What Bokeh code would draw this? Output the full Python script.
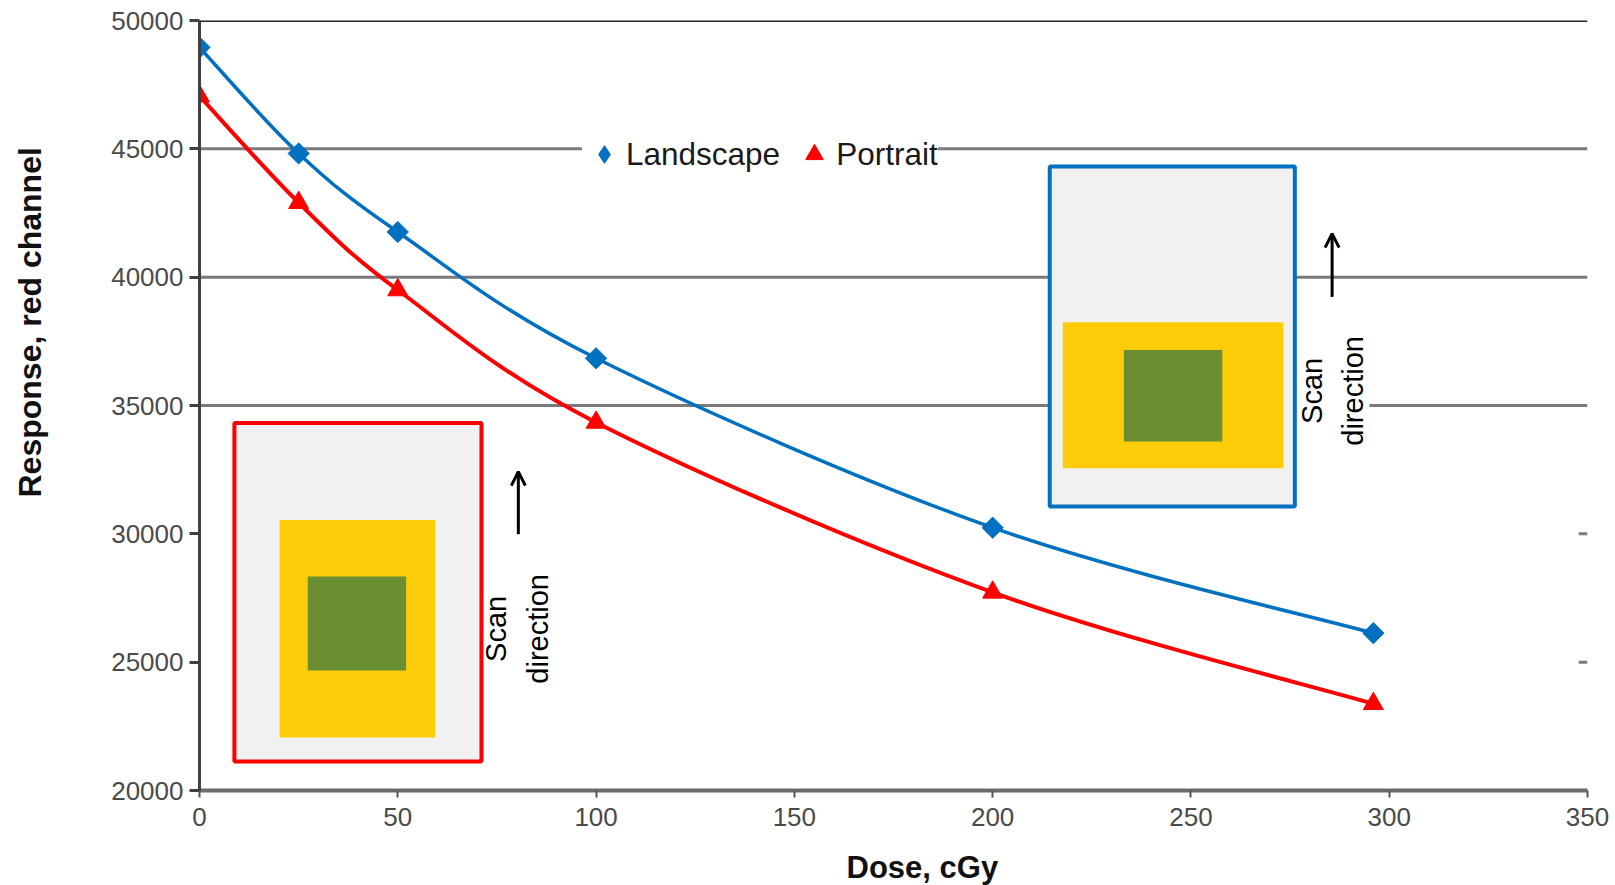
import math

from bokeh.core.properties import value
from bokeh.embed import file_html
from bokeh.models import (Arrow, FixedTicker, Legend, LegendItem, OpenHead,
                          Range1d, Title)
from bokeh.plotting import figure
from bokeh.resources import INLINE

# ---- measured film response ----
dose = [0, 25, 50, 100, 200, 296]
landscape = [48950, 44820, 41760, 36840, 30240, 26130]
portrait = [47050, 42900, 39500, 34340, 27720, 23380]

x_ticks = [0, 50, 100, 150, 200, 250, 300, 350]
y_ticks = [20000, 25000, 30000, 35000, 40000, 45000, 50000]

# ---- film sketches (left, right, bottom, top in axis units) ----
portrait_film = [8.8, 71.1, 21126, 34322]
portrait_strip = [20.2, 59.4, 22061, 30543]
portrait_patch = [27.3, 52.1, 24671, 28334]
landscape_film = [214.4, 276.2, 31061, 44308]
landscape_strip = [217.7, 273.3, 32557, 38245]
landscape_patch = [233.1, 257.9, 33594, 37166]

scan_note_x = [80.1, 285.7]
scan_note_y = [26297, 35569]
scan_arrow_x = [80.4, 285.6]
scan_arrow_y0 = [29986, 39231]
scan_arrow_y1 = [32425, 41697]

BLUE = "#0070C0"
RED = "#FF0000"
FONT = "Liberation Sans"

p = figure(frame_width=1388, frame_height=770,
           x_range=Range1d(0, 350), y_range=Range1d(20000, 50000),
           output_backend="svg", toolbar_location=None,
           min_border_left=199, min_border_right=28,
           min_border_top=20, min_border_bottom=95,
           background_fill_color="white", border_fill_color="white")
p.outline_line_color = None
p.xgrid.visible = False
p.ygrid.visible = False

# horizontal rules
full_rules = [35000, 40000, 45000]
p.segment(x0=[0] * len(full_rules), x1=[350] * len(full_rules),
          y0=full_rules, y1=full_rules, line_color="#7a7a7a", line_width=3)
p.segment(x0=[0], x1=[350], y0=[50000], y1=[50000],
          line_color="#262626", line_width=3)
stub_rules = [25000, 30000]
p.segment(x0=[347.8] * 2, x1=[350] * 2, y0=stub_rules, y1=stub_rules,
          line_color="#7a7a7a", line_width=3)

# axes
p.xaxis.ticker = FixedTicker(ticks=x_ticks)
p.yaxis.ticker = FixedTicker(ticks=y_ticks)
p.xaxis.minor_tick_line_color = None
p.yaxis.minor_tick_line_color = None
for ax in (p.xaxis[0], p.yaxis[0]):
    ax.major_label_text_font = FONT
    ax.major_label_text_font_size = "26px"
    ax.major_label_text_color = "#4a4a4a"
    ax.major_tick_in = 0
p.yaxis.axis_line_color = "#404040"
p.yaxis.axis_line_width = 3
p.yaxis.major_tick_line_color = "#404040"
p.yaxis.major_tick_line_width = 3
p.yaxis.major_tick_out = 10
p.yaxis.major_label_standoff = 6
p.xaxis.axis_line_color = "#6b6b6b"
p.xaxis.axis_line_width = 4
p.xaxis.major_tick_line_color = "#555555"
p.xaxis.major_tick_line_width = 2
p.xaxis.major_tick_out = 7
p.xaxis.major_label_standoff = 10


def smooth_segments(xs, ys):
    """Cubic Bezier pieces through every point (Catmull-Rom style)."""
    n = len(xs)
    seg = dict(x0=[], y0=[], x1=[], y1=[], cx0=[], cy0=[], cx1=[], cy1=[])
    for i in range(n - 1):
        a = max(i - 1, 0)
        b = min(i + 2, n - 1)
        seg["x0"].append(xs[i]); seg["y0"].append(ys[i])
        seg["x1"].append(xs[i + 1]); seg["y1"].append(ys[i + 1])
        seg["cx0"].append(xs[i] + (xs[i + 1] - xs[a]) / 6)
        seg["cy0"].append(ys[i] + (ys[i + 1] - ys[a]) / 6)
        seg["cx1"].append(xs[i + 1] - (xs[b] - xs[i]) / 6)
        seg["cy1"].append(ys[i + 1] - (ys[b] - ys[i]) / 6)
    return seg


# scan-direction notes (white backing hides the rule behind the text)
p.text(x=scan_note_x, y=scan_note_y, text=["Scan\ndirection"] * 2,
       angle=math.pi / 2, text_align="center", text_baseline="middle",
       text_font=value(FONT), text_font_size="29px", text_color="black",
       text_line_height=1.3, background_fill_color="white")
for ax_, y0, y1 in zip(scan_arrow_x, scan_arrow_y0, scan_arrow_y1):
    p.add_layout(Arrow(end=OpenHead(size=14, line_width=3, line_color="black"),
                       x_start=ax_, y_start=y0, x_end=ax_, y_end=y1,
                       line_width=3, line_color="black"))

# film sketches
for box, line in ((portrait_film, RED), (landscape_film, BLUE)):
    p.quad(left=[box[0]], right=[box[1]], bottom=[box[2]], top=[box[3]],
           fill_color="#F1F1F1", line_color=line, line_width=4)
for box, fill in ((portrait_strip, "#FDCC08"), (landscape_strip, "#FDCC08"),
                  (portrait_patch, "#6B8E33"), (landscape_patch, "#6B8E33")):
    p.quad(left=[box[0]], right=[box[1]], bottom=[box[2]], top=[box[3]],
           fill_color=fill, line_color=None)

# response curves
p.bezier(line_color=BLUE, line_width=3.5, **smooth_segments(dose, landscape))
p.bezier(line_color=RED, line_width=4, **smooth_segments(dose, portrait))
p.scatter(dose, landscape, marker="square", angle=math.pi / 4,
          size=15, fill_color=BLUE, line_color=BLUE)
port_pts = p.scatter(dose, portrait, marker="triangle", size=20,
                     fill_color=RED, line_color=RED)
# legend swatch for the rotated-square markers (shown in the key only)
land_key = p.scatter(dose, landscape, marker="diamond", size=15,
                     fill_color=BLUE, line_color=BLUE, visible=False)

legend = Legend(items=[LegendItem(label="Landscape", renderers=[land_key]),
                       LegendItem(label="Portrait", renderers=[port_pts])],
                orientation="horizontal", location=(383, 614),
                background_fill_color="white", background_fill_alpha=1,
                border_line_color=None, label_text_font=FONT,
                label_text_font_size="31.5px", label_text_color="#1a1a1a",
                glyph_width=44, glyph_height=44, label_standoff=0,
                spacing=12, padding=0, margin=0)
p.add_layout(legend)

# axis titles
p.add_layout(Title(text=" ", text_font_size="16px", standoff=0), "below")
p.add_layout(Title(text="Dose, cGy", align="left", offset=647, standoff=0,
                   text_font=FONT, text_font_size="31px",
                   text_font_style="bold", text_color="#111111"), "below")
p.add_layout(Title(text=" ", text_font_size="40px"), "left")
p.add_layout(Title(text="Response, red channel", align="left", offset=293,
                   text_font=FONT, text_font_size="32px",
                   text_font_style="bold", text_color="#111111"), "left")

open("out.html", "w").write(file_html(p, INLINE))
